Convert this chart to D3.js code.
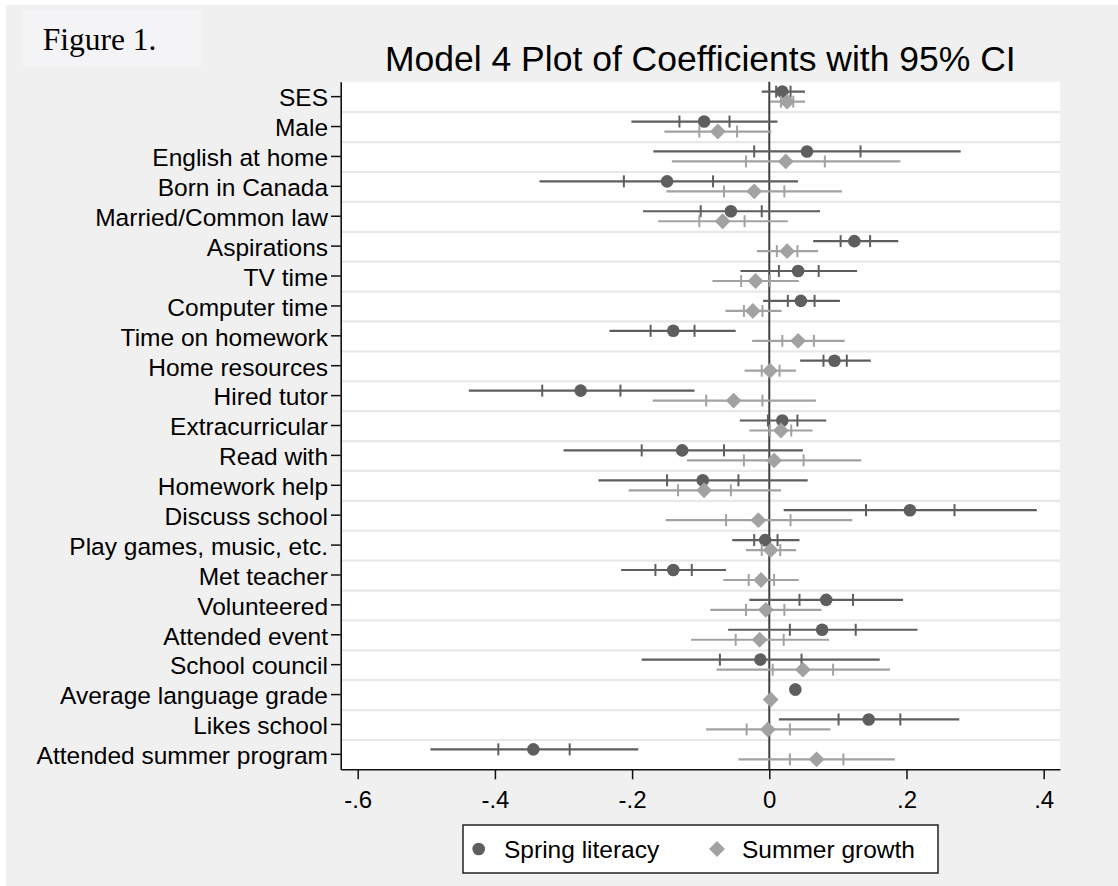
<!DOCTYPE html>
<html>
<head>
<meta charset="utf-8">
<script src="https://cdn.jsdelivr.net/npm/d3@7"></script>
<style>
  html, body { margin: 0; padding: 0; background: #ffffff; }
  svg { display: block; }
</style>
</head>
<body>
<svg id="chart" width="1118" height="886"></svg>
<script>
// ---------------- DATA ----------------
const categories = [
  "SES", "Male", "English at home", "Born in Canada", "Married/Common law",
  "Aspirations", "TV time", "Computer time", "Time on homework", "Home resources",
  "Hired tutor", "Extracurricular", "Read with", "Homework help", "Discuss school",
  "Play games, music, etc.", "Met teacher", "Volunteered", "Attended event",
  "School council", "Average language grade", "Likes school", "Attended summer program"
];

// Spring literacy: 95% CI low, inner tick low, estimate, inner tick high, 95% CI high
const springLo  = [-0.011,-0.201,-0.169,-0.335,-0.184, 0.064,-0.042,-0.009,-0.233, 0.045,-0.438,-0.043,-0.300,-0.249, 0.021,-0.054,-0.216,-0.029,-0.060,-0.186, 0.034, 0.014,-0.494];
const springTlo = [ 0.010,-0.131,-0.022,-0.212,-0.100, 0.104, 0.014, 0.027,-0.173, 0.079,-0.331,-0.002,-0.186,-0.149, 0.141,-0.022,-0.166, 0.044, 0.030,-0.072, 0.036, 0.101,-0.395];
const springEst = [ 0.019,-0.095, 0.055,-0.149,-0.056, 0.124, 0.042, 0.046,-0.140, 0.095,-0.275, 0.019,-0.127,-0.097, 0.205,-0.006,-0.140, 0.083, 0.077,-0.013, 0.038, 0.145,-0.344];
const springThi = [ 0.031,-0.058, 0.133,-0.082,-0.011, 0.147, 0.072, 0.066,-0.109, 0.113,-0.217, 0.041,-0.066,-0.045, 0.270, 0.012,-0.113, 0.122, 0.126, 0.047, 0.040, 0.191,-0.291];
const springHi  = [ 0.052, 0.012, 0.279, 0.042, 0.074, 0.188, 0.128, 0.103,-0.049, 0.148,-0.109, 0.083, 0.049, 0.056, 0.390, 0.044,-0.063, 0.195, 0.216, 0.161, 0.042, 0.277,-0.191];

// Summer growth
const summerLo  = [ 0.001,-0.153,-0.142,-0.150,-0.162,-0.018,-0.083,-0.064,-0.025,-0.036,-0.170,-0.029,-0.120,-0.205,-0.151,-0.034,-0.067,-0.086,-0.114,-0.077, 0.000,-0.092,-0.045];
const summerTlo = [ 0.017,-0.102,-0.034,-0.066,-0.102, 0.011,-0.041,-0.037, 0.019,-0.011,-0.092, 0.001,-0.037,-0.133,-0.063,-0.011,-0.030,-0.034,-0.049, 0.005, 0.001,-0.033, 0.030];
const summerEst = [ 0.026,-0.075, 0.024,-0.022,-0.068, 0.026,-0.020,-0.024, 0.042, 0.001,-0.052, 0.017, 0.007,-0.095,-0.016, 0.002,-0.012,-0.005,-0.014, 0.049, 0.002,-0.002, 0.069];
const summerThi = [ 0.035,-0.047, 0.081, 0.022,-0.036, 0.041, 0.001,-0.010, 0.065, 0.015,-0.010, 0.032, 0.050,-0.056, 0.031, 0.016, 0.007, 0.022, 0.021, 0.093, 0.004, 0.030, 0.108];
const summerHi  = [ 0.052, 0.003, 0.191, 0.106, 0.027, 0.071, 0.043, 0.018, 0.110, 0.039, 0.068, 0.063, 0.134, 0.017, 0.121, 0.039, 0.043, 0.076, 0.087, 0.176, 0.005, 0.089, 0.183];

const xTickValues = [-0.6, -0.4, -0.2, 0, 0.2, 0.4];
const xTickLabels = ["-.6", "-.4", "-.2", "0", ".2", ".4"];
const seriesNames = ["Spring literacy", "Summer growth"];
const titleText = "Model 4 Plot of Coefficients with 95% CI";
const figureText = "Figure 1.";

// ---------------- LAYOUT ----------------
const svg = d3.select("#chart");
const W = 1118, H = 886;
const plot = { left: 340.7, right: 1060, top: 81.7, bottom: 769.3 };
const sansFont = "'Liberation Sans', Arial, Helvetica, sans-serif";
const serifFont = "'Liberation Serif', 'Times New Roman', serif";
const darkCol = "#5e5e5e", lightCol = "#a2a2a2";

// background
svg.append("rect").attr("x", 0).attr("y", 0).attr("width", W).attr("height", H).attr("fill", "#ffffff");
svg.append("rect").attr("x", 6).attr("y", 5).attr("width", W - 6).attr("height", H - 5).attr("fill", "#f0f0f0");

// Figure label box
svg.append("rect").attr("x", 22.7).attr("y", 9.3).attr("width", 178.3).attr("height", 57.4).attr("fill", "#f4f4f6");
svg.append("text").attr("x", 42.7).attr("y", 50).attr("font-family", serifFont).attr("font-size", 31.5)
  .attr("fill", "#000").text(figureText);

// scales
const x = d3.scaleLinear().domain([-0.6248, 0.4238]).range([plot.left, plot.right]);
const y = d3.scaleBand().domain(categories).range([plot.top, plot.bottom]).paddingInner(0).paddingOuter(0);
const bw = y.bandwidth();

// plot background
svg.append("rect").attr("x", plot.left).attr("y", plot.top)
  .attr("width", plot.right - plot.left).attr("height", plot.bottom - plot.top).attr("fill", "#ffffff");

// gridlines between rows
svg.append("g").selectAll("line").data(categories.slice(1)).join("line")
  .attr("x1", plot.left).attr("x2", plot.right)
  .attr("y1", d => y(d) + 0.6).attr("y2", d => y(d) + 0.6)
  .attr("stroke", "#e8e8e8").attr("stroke-width", 2.2);

// title
svg.append("text").attr("x", (plot.left + plot.right) / 2).attr("y", 71)
  .attr("text-anchor", "middle").attr("font-family", sansFont).attr("font-size", 35.5)
  .attr("fill", "#000").text(titleText);

// zero line
svg.append("line").attr("x1", x(0)).attr("x2", x(0)).attr("y1", plot.top).attr("y2", plot.bottom)
  .attr("stroke", "#404040").attr("stroke-width", 2);

// series
const series = [
  { name: seriesNames[0], lo: springLo, tlo: springTlo, est: springEst, thi: springThi, hi: springHi, color: darkCol, off: -5, shape: "circle" },
  { name: seriesNames[1], lo: summerLo, tlo: summerTlo, est: summerEst, thi: summerThi, hi: summerHi, color: lightCol, off: 5, shape: "diamond" }
];
const circleSym = d3.symbol().type(d3.symbolCircle).size(Math.PI * 6.3 * 6.3);
const diamondSym = d3.symbol().type(d3.symbolSquare).size(11.2 * 11.2);

series.forEach(s => {
  const g = svg.append("g");
  const rows = categories.map((c, i) => ({ c, i }));
  const cy = d => y(d.c) + bw / 2 + s.off;
  g.selectAll("line.ci").data(rows).join("line").attr("class", "ci")
    .attr("x1", d => x(s.lo[d.i])).attr("x2", d => x(s.hi[d.i]))
    .attr("y1", cy).attr("y2", cy)
    .attr("stroke", s.color).attr("stroke-width", 2.2);
  ["tlo", "thi"].forEach(k => {
    g.selectAll("line." + k).data(rows).join("line").attr("class", k)
      .attr("x1", d => x(s[k][d.i])).attr("x2", d => x(s[k][d.i]))
      .attr("y1", d => cy(d) - 6).attr("y2", d => cy(d) + 6)
      .attr("stroke", s.color).attr("stroke-width", 2);
  });
  g.selectAll("path.m").data(rows).join("path").attr("class", "m")
    .attr("d", s.shape === "circle" ? circleSym() : diamondSym())
    .attr("transform", d => `translate(${x(s.est[d.i])},${cy(d)})` + (s.shape === "diamond" ? " rotate(45)" : ""))
    .attr("fill", s.color);
});

// axes
const yAxis = d3.axisLeft(y).tickSize(9.7).tickSizeOuter(0).tickPadding(3);
const gy = svg.append("g").attr("transform", `translate(${plot.left},0)`).call(yAxis);
gy.selectAll("text").attr("font-family", sansFont).attr("font-size", 24.5).attr("fill", "#000").attr("dy", "0.4em");
gy.selectAll("line").attr("stroke", "#111").attr("stroke-width", 1.5);
gy.select(".domain").attr("stroke", "#111").attr("stroke-width", 1.6);

const xAxis = d3.axisBottom(x).tickValues(xTickValues)
  .tickFormat((d, i) => xTickLabels[i]).tickSize(10).tickSizeOuter(0).tickPadding(12);
const gx = svg.append("g").attr("transform", `translate(0,${plot.bottom})`).call(xAxis);
gx.selectAll("text").attr("font-family", sansFont).attr("font-size", 24).attr("fill", "#000");
gx.selectAll("line").attr("stroke", "#111").attr("stroke-width", 1.5);
gx.select(".domain").attr("stroke", "#111").attr("stroke-width", 1.6);

// legend
const lg = svg.append("g");
lg.append("rect").attr("x", 463).attr("y", 825).attr("width", 475).attr("height", 48)
  .attr("fill", "#ffffff").attr("stroke", "#222").attr("stroke-width", 1.5);
const legendItems = [
  { name: seriesNames[0], mx: 478.7, tx: 504, color: darkCol, shape: "circle" },
  { name: seriesNames[1], mx: 717, tx: 742, color: lightCol, shape: "diamond" }
];
legendItems.forEach(it => {
  lg.append("path").attr("d", it.shape === "circle" ? circleSym() : diamondSym())
    .attr("transform", `translate(${it.mx},849)` + (it.shape === "diamond" ? " rotate(45)" : ""))
    .attr("fill", it.color);
  lg.append("text").attr("x", it.tx).attr("y", 858).attr("font-family", sansFont)
    .attr("font-size", 24.5).attr("fill", "#000").text(it.name);
});
</script>
</body>
</html>
